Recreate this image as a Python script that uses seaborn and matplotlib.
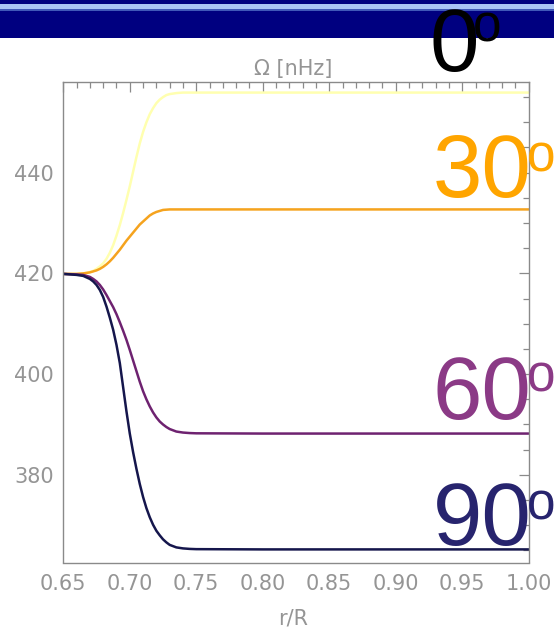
import matplotlib
matplotlib.use("Agg")
import matplotlib.pyplot as plt
from matplotlib.patches import Rectangle
from matplotlib.ticker import MultipleLocator
import pandas as pd
import seaborn as sns

# ---- data ----
r = [0.650, 0.655, 0.660,
     0.665, 0.6675, 0.670, 0.6725, 0.675, 0.6775, 0.680, 0.6825, 0.685, 0.6875,
     0.690, 0.6925, 0.695, 0.6975, 0.700, 0.7025, 0.705, 0.7075, 0.710, 0.7125,
     0.715, 0.7175, 0.720, 0.7225, 0.725, 0.7275, 0.730,
     0.735, 0.740, 0.745, 0.750, 0.800, 0.900, 1.000]
omega_0 = [419.9, 419.9, 419.9,
           420.0, 420.1, 420.3, 420.5, 420.9, 421.4, 422.0, 422.9, 424.1, 425.6,
           427.5, 429.6, 432.0, 434.6, 437.3, 440.2, 443.1, 445.8, 448.1, 450.0,
           451.6, 452.8, 453.8, 454.5, 455.0, 455.4, 455.6,
           455.8, 455.9, 455.9, 455.9, 455.9, 455.9, 455.9]
omega_30 = [419.9, 419.9, 419.9,
            420.0, 420.1, 420.2, 420.4, 420.6, 420.9, 421.3, 421.8, 422.4, 423.1,
            423.9, 424.7, 425.6, 426.5, 427.3, 428.1, 428.9, 429.7, 430.3, 430.9,
            431.5, 431.9, 432.2, 432.4, 432.6, 432.65, 432.7,
            432.7, 432.7, 432.7, 432.7, 432.7, 432.7, 432.7]
omega_60 = [419.9, 419.85, 419.8,
            419.7, 419.5, 419.3, 418.9, 418.4, 417.7, 416.8, 415.7, 414.5, 413.3,
            411.9, 410.3, 408.6, 406.8, 404.8, 402.7, 400.6, 398.5, 396.6, 395.0,
            393.6, 392.4, 391.4, 390.6, 390.0, 389.5, 389.1,
            388.6, 388.4, 388.3, 388.25, 388.2, 388.2, 388.2]
omega_90 = [419.9, 419.8, 419.7,
            419.5, 419.2, 418.9, 418.4, 417.7, 416.7, 415.3, 413.4, 411.2, 408.8,
            405.8, 402.2, 397.4, 392.6, 388.2, 384.5, 381.2, 378.2, 375.6, 373.4,
            371.6, 370.1, 368.9, 368.0, 367.2, 366.6, 366.1,
            365.6, 365.4, 365.3, 365.25, 365.2, 365.2, 365.2]
latitudes = ["0°", "30°", "60°", "90°"]
series = [omega_0, omega_30, omega_60, omega_90]
line_colors = ["#FFFFB0", "#F5A31E", "#6E2270", "#15164C"]
label_colors = ["#000000", "#FFA500", "#8B3A86", "#27246E"]
x_ticks = [0.65, 0.70, 0.75, 0.80, 0.85, 0.90, 0.95, 1.00]
y_ticks = [380, 400, 420, 440]

# ---- style ----
sns.set_theme(style="white")
plt.rcParams["font.family"] = ["DejaVu Sans"]
GREY = "#959595"
SPINE = "#8a8a8a"

W, H = 554, 628
fig = plt.figure(figsize=(W / 100, H / 100), dpi=100)
fig.patch.set_facecolor("white")

def fx(x):
    return x / W

def fy(y):
    return 1 - y / H

# header band
fig.add_artist(Rectangle((0, fy(38.3)), 1, 38.3 / H, transform=fig.transFigure,
                         facecolor="#000080", edgecolor="none", zorder=0))
fig.add_artist(Rectangle((0, fy(9.3)), 1, 5.0 / H, transform=fig.transFigure,
                         facecolor="#A9C4F5", edgecolor="none", zorder=1))
fig.add_artist(Rectangle((0, fy(10.7)), 1, 1.4 / H, transform=fig.transFigure,
                         facecolor="#4058B8", edgecolor="none", zorder=1))

ax = fig.add_axes([fx(63.3), fy(562.5), (528.7 - 63.3) / W, (562.5 - 82) / H])
ax.set_facecolor("white")

df = pd.DataFrame({
    "r": r * len(series),
    "omega": [v for s in series for v in s],
    "lat": [lab for lab in latitudes for _ in r],
})
sns.lineplot(data=df, x="r", y="omega", hue="lat", hue_order=latitudes,
             palette=dict(zip(latitudes, line_colors)), estimator=None,
             linewidth=1.8, legend=False, ax=ax)

ax.set_xlim(0.65, 1.00)
ax.set_ylim(362.6, 458.0)
ax.set_xticks(x_ticks)
ax.set_xticklabels([f"{v:.2f}" for v in x_ticks])
ax.set_yticks(y_ticks)
ax.xaxis.set_minor_locator(MultipleLocator(0.01))
ax.yaxis.set_minor_locator(MultipleLocator(5))
ax.tick_params(which="both", direction="in", top=True, right=True,
               labeltop=False, labelright=False, color=SPINE, width=0.9)
ax.tick_params(which="major", length=7.5, labelsize=15, labelcolor=GREY)
ax.tick_params(axis="x", which="major", pad=8.5)
ax.tick_params(axis="y", which="major", pad=7)
ax.tick_params(which="minor", length=4)
ax.set_xlabel("")
ax.set_ylabel("")
for sp in ax.spines.values():
    sp.set_color(SPINE)
    sp.set_linewidth(1.0)
    sp.set_visible(True)

# title and x label
fig.text(fx(293), fy(75), "Ω [nHz]", ha="center", va="baseline",
         fontsize=15, color=GREY)
fig.text(fx(293), fy(625), "r/R", ha="center", va="baseline",
         fontsize=15, color=GREY)

# big latitude labels
label_pos = [  # (digit left, digit baseline, o left, o baseline)
    (429.5, 71.5, 473.0, 41.5),
    (432.5, 196.5, 526.5, 171.5),
    (432.5, 419.5, 526.5, 391.5),
    (432.5, 544.5, 526.5, 519.5),
]
for lab, col, (dx, dy, ox, oy) in zip(latitudes, label_colors, label_pos):
    fig.text(fx(dx), fy(dy), lab.rstrip("°"), ha="left", va="baseline",
             fontsize=64, family="Liberation Sans", color=col, zorder=5)
    fig.text(fx(ox), fy(oy), "o", ha="left", va="baseline",
             fontsize=37, family="Liberation Sans", color=col, zorder=5)

fig.savefig("out.png", dpi=100)
